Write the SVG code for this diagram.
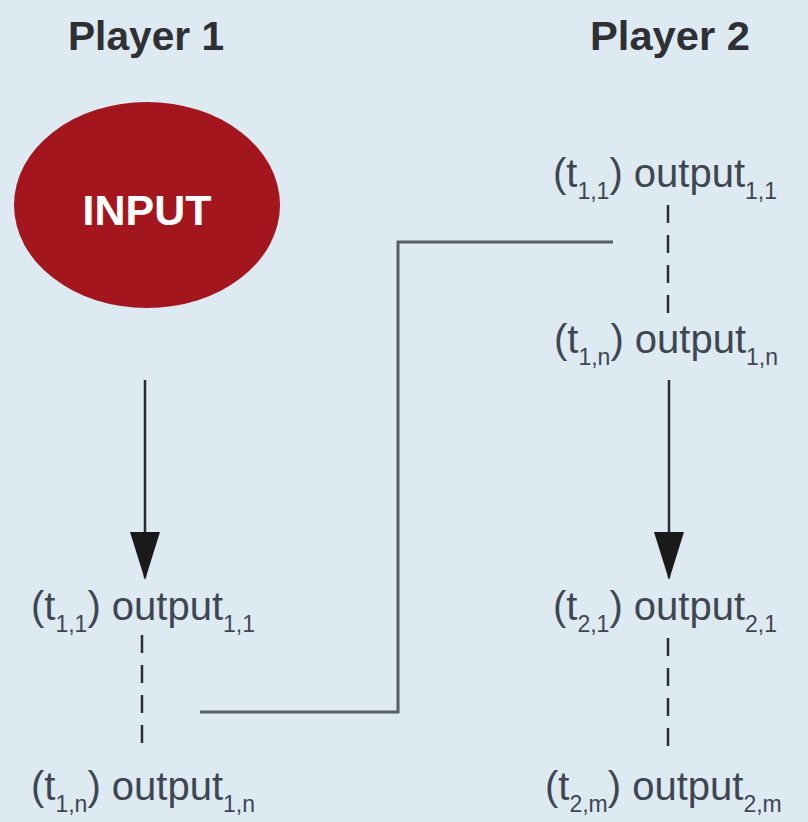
<svg xmlns="http://www.w3.org/2000/svg" width="808" height="822" viewBox="0 0 808 822">
<defs>
<style>
.head{font-family:"Liberation Sans",Arial,sans-serif;font-weight:bold;font-size:40px;fill:#2f3033}
.lbl{font-family:"Liberation Sans",Arial,sans-serif;font-size:40px;fill:#3d4651}
.sub{font-size:23px}
.conn{fill:none;stroke:#555d65;stroke-width:3}
.dash{fill:none;stroke:#2a2d30;stroke-width:2.5;stroke-dasharray:18 12}
.arrow{fill:none;stroke:#2a2d30;stroke-width:2.5}
</style>
<marker id="ah" viewBox="0 0 48 30" refX="46" refY="15" markerWidth="48" markerHeight="30" markerUnits="userSpaceOnUse" orient="auto">
<path d="M0,0 L48,15 L0,30 Z" fill="#1a1a1a"/>
</marker>
</defs>
<rect width="808" height="822" fill="#deeaf2"/>
<g id="player1-title"><text class="head" x="68" y="50" textLength="156" lengthAdjust="spacingAndGlyphs">Player 1</text></g>
<g id="player2-title"><text class="head" x="590" y="50" textLength="160" lengthAdjust="spacingAndGlyphs">Player 2</text></g>
<g id="input">
<ellipse cx="147" cy="205" rx="133" ry="103" fill="#a3161d"/>
<text x="147" y="225" text-anchor="middle" font-family="'Liberation Sans',Arial,sans-serif" font-weight="bold" font-size="43" fill="#ffffff">INPUT</text>
</g>
<g id="p2-out11"><text class="lbl" x="553" y="187">(t<tspan class="sub" dy="12">1,1</tspan><tspan dy="-12">) output</tspan><tspan class="sub" dy="12">1,1</tspan></text></g>
<g id="p2-out1n"><text class="lbl" x="554" y="353">(t<tspan class="sub" dy="12">1,n</tspan><tspan dy="-12">) output</tspan><tspan class="sub" dy="12">1,n</tspan></text></g>
<g id="p1-out11"><text class="lbl" x="31" y="620">(t<tspan class="sub" dy="12">1,1</tspan><tspan dy="-12">) output</tspan><tspan class="sub" dy="12">1,1</tspan></text></g>
<g id="p1-out1n"><text class="lbl" x="31" y="800">(t<tspan class="sub" dy="12">1,n</tspan><tspan dy="-12">) output</tspan><tspan class="sub" dy="12">1,n</tspan></text></g>
<g id="p2-out21"><text class="lbl" x="553" y="620">(t<tspan class="sub" dy="12">2,1</tspan><tspan dy="-12">) output</tspan><tspan class="sub" dy="12">2,1</tspan></text></g>
<g id="p2-out2m"><text class="lbl" x="545" y="800">(t<tspan class="sub" dy="12">2,m</tspan><tspan dy="-12">) output</tspan><tspan class="sub" dy="12">2,m</tspan></text></g>
<g id="connectors">
<line class="arrow" x1="145" y1="380" x2="145" y2="578" marker-end="url(#ah)"/>
<line class="arrow" x1="669" y1="380" x2="669" y2="578" marker-end="url(#ah)"/>
<line class="dash" x1="668" y1="205" x2="668" y2="316"/>
<line class="dash" x1="142" y1="635" x2="142" y2="746"/>
<line class="dash" x1="668" y1="638" x2="668" y2="749"/>
<path class="conn" d="M613,242 H398 V712 H200"/>
</g>
</svg>
